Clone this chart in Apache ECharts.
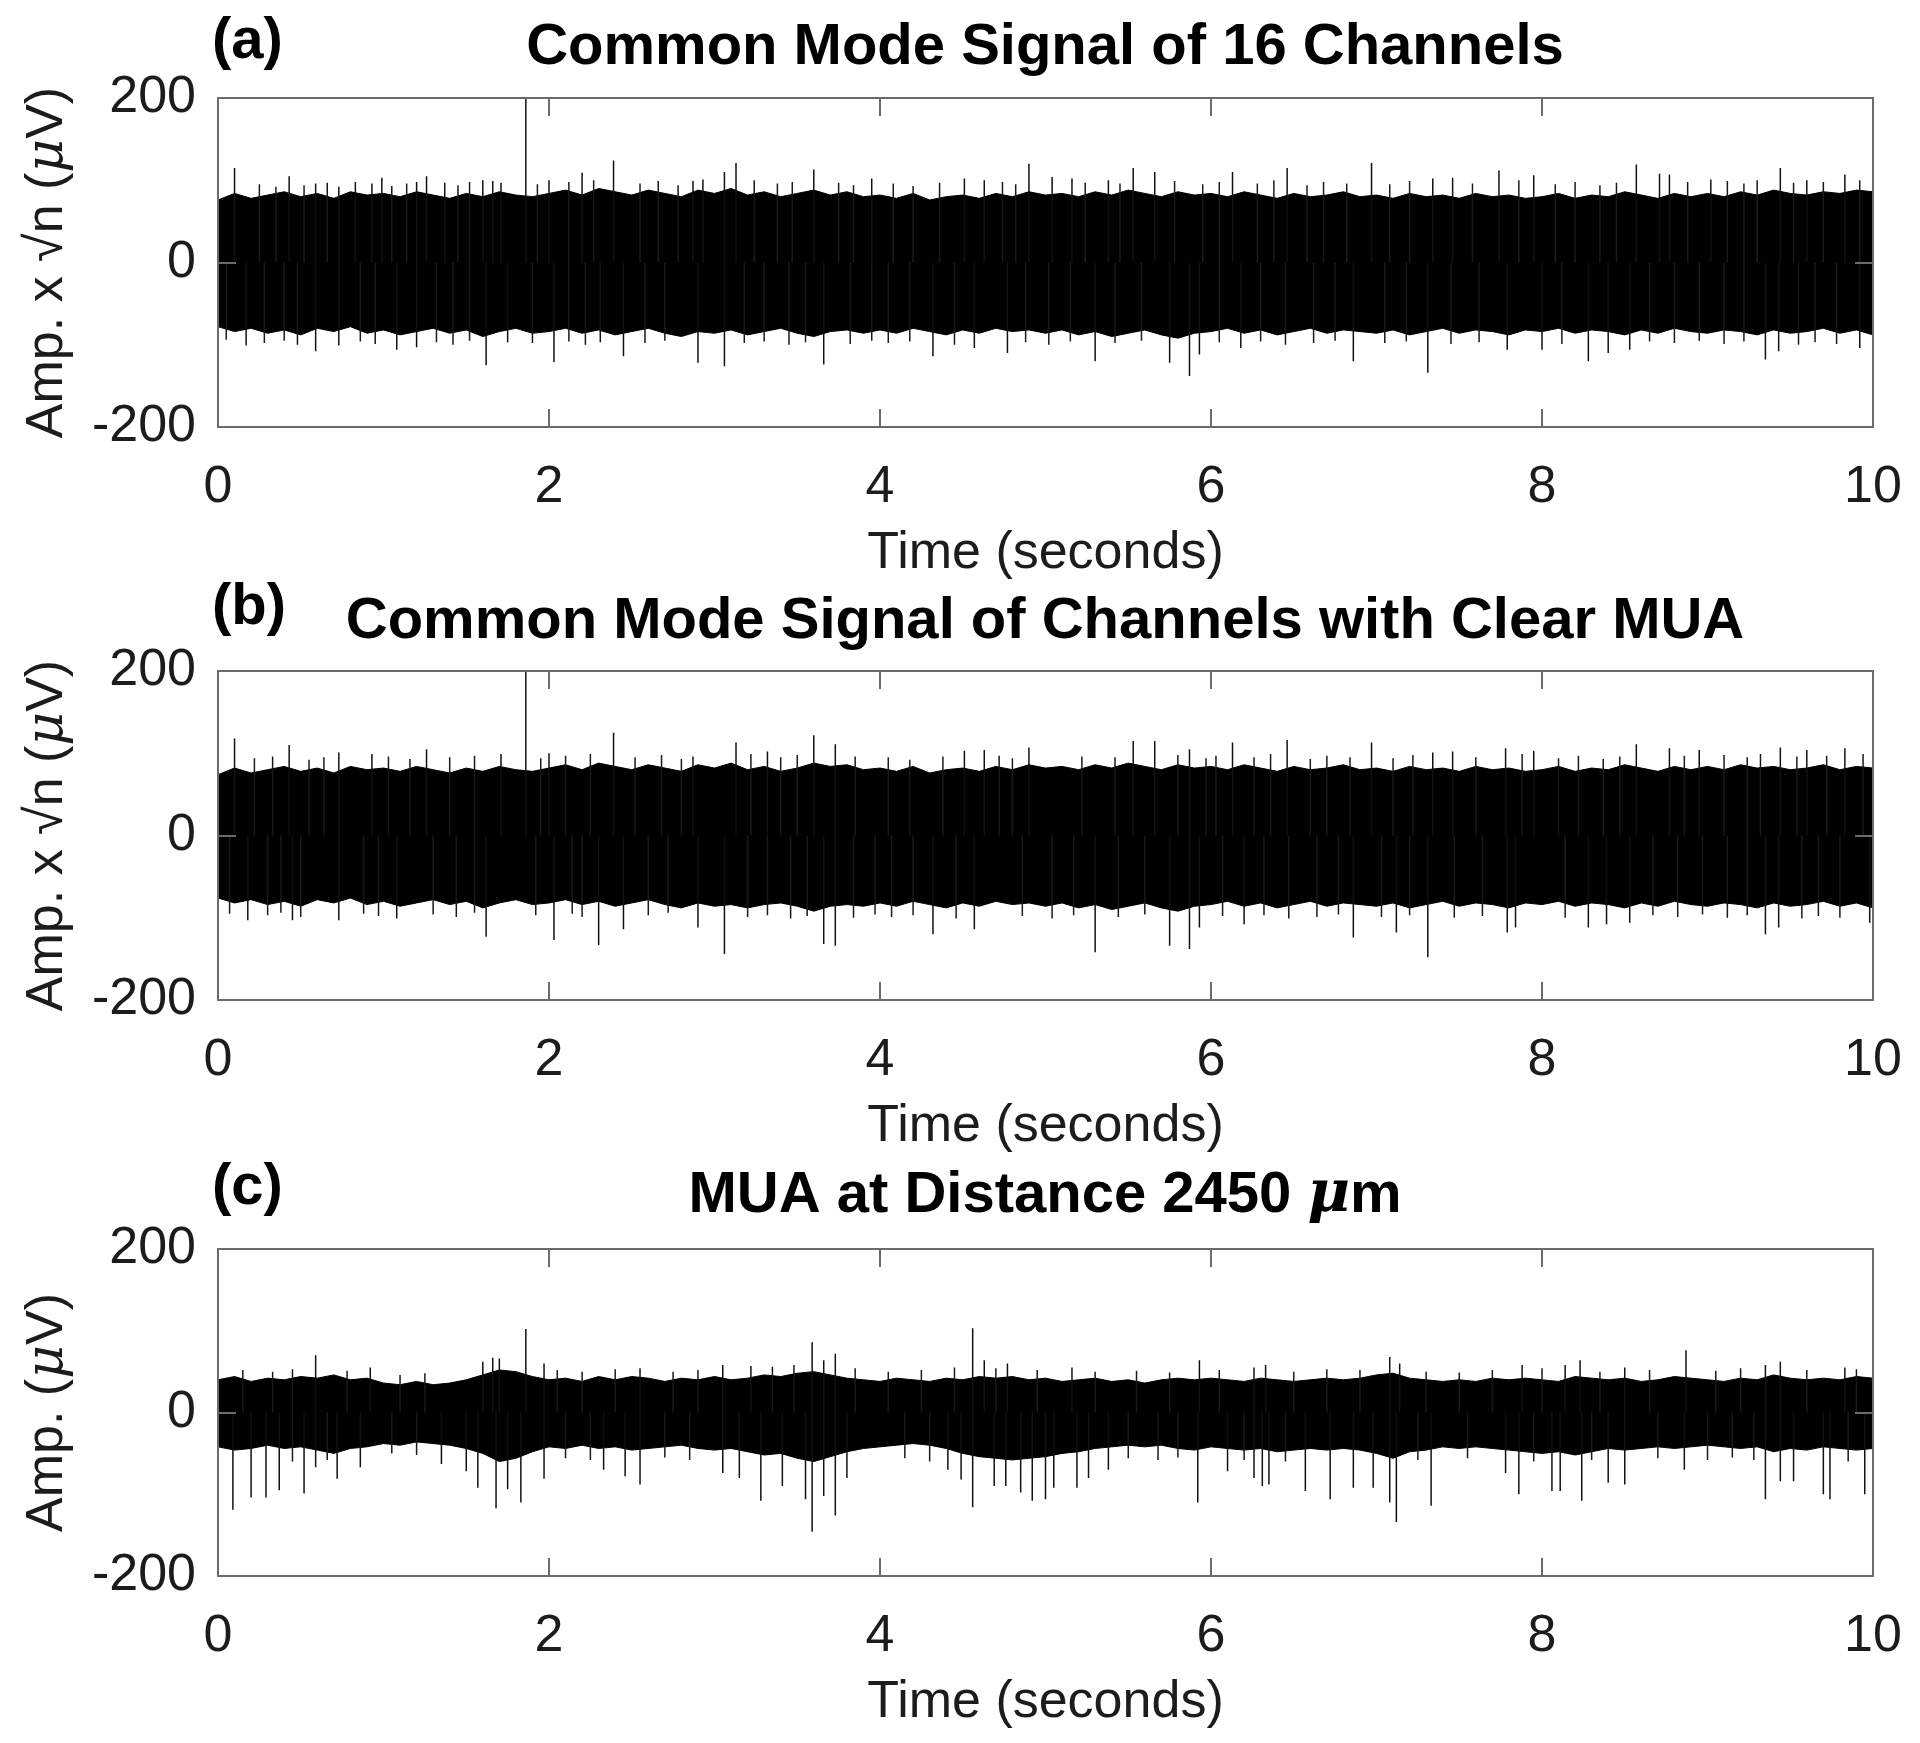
<!DOCTYPE html>
<html>
<head>
<meta charset="utf-8">
<script src="https://cdn.jsdelivr.net/npm/echarts@6/dist/echarts.min.js"></script>
<style>
  html, body { margin: 0; padding: 0; background: #fff; }
  #chart { width: 1920px; height: 1743px; }
</style>
</head>
<body>
<div id="chart"></div>
<script>
// band of the dense noise, sampled every 0.1 s (0 .. 10 s)
const bandStep = 0.1;
const upperA = [
  76, 84, 78, 82, 86, 80, 84, 78, 86, 82,
  84, 80, 86, 82, 78, 84, 80, 86, 82, 80,
  84, 88, 82, 90, 86, 82, 88, 84, 80, 88,
  84, 90, 82, 86, 80, 84, 88, 82, 86, 80,
  82, 78, 84, 76, 80, 82, 78, 84, 80, 86,
  82, 84, 80, 86, 82, 88, 84, 80, 86, 82,
  84, 80, 86, 82, 78, 84, 80, 82, 86, 80,
  82, 78, 84, 80, 82, 78, 84, 80, 82, 78,
  80, 84, 78, 82, 80, 86, 82, 78, 84, 80,
  84, 80, 86, 82, 88, 84, 82, 86, 84, 88, 86
];
const lowerA = [
  -78, -84, -80, -86, -82, -88, -80, -84, -78, -86,
  -82, -88, -84, -80, -86, -82, -90, -84, -80, -86,
  -84, -80, -86, -82, -88, -84, -80, -86, -90, -84,
  -86, -82, -88, -84, -80, -86, -90, -84, -82, -86,
  -82, -86, -80, -84, -88, -82, -86, -80, -84, -82,
  -86, -82, -88, -84, -90, -86, -82, -88, -92, -86,
  -84, -80, -86, -82, -88, -84, -80, -86, -82, -84,
  -86, -82, -88, -84, -80, -86, -82, -84, -88, -82,
  -84, -80, -86, -82, -84, -88, -82, -86, -80, -84,
  -86, -82, -84, -88, -82, -86, -84, -80, -86, -82, -88
];
const upperB = [
  74, 82, 76, 80, 84, 78, 82, 76, 84, 80,
  82, 78, 84, 80, 76, 82, 78, 84, 80, 78,
  82, 86, 80, 88, 84, 80, 86, 82, 78, 86,
  82, 88, 80, 84, 78, 82, 88, 84, 86, 80,
  82, 78, 84, 76, 80, 82, 78, 84, 80, 86,
  82, 84, 80, 86, 82, 88, 84, 80, 86, 82,
  84, 80, 86, 82, 78, 84, 80, 82, 86, 80,
  82, 78, 84, 80, 82, 78, 84, 80, 82, 78,
  80, 84, 78, 82, 80, 86, 82, 78, 84, 80,
  84, 80, 86, 82, 84, 80, 82, 86, 80, 84, 82
];
const lowerB = [
  -76, -82, -78, -84, -80, -86, -78, -82, -76, -84,
  -80, -86, -82, -78, -84, -80, -88, -82, -78, -84,
  -82, -78, -84, -80, -86, -82, -78, -84, -88, -82,
  -86, -84, -88, -84, -82, -86, -92, -86, -84, -86,
  -82, -86, -80, -84, -88, -82, -86, -80, -84, -82,
  -86, -82, -88, -84, -90, -86, -82, -88, -92, -86,
  -84, -80, -86, -82, -88, -84, -80, -86, -82, -84,
  -86, -82, -88, -84, -80, -86, -82, -84, -88, -82,
  -84, -80, -86, -82, -84, -88, -82, -86, -80, -84,
  -86, -82, -84, -88, -82, -86, -84, -80, -86, -82, -88
];
const upperC = [
  40, 44, 38, 42, 40, 44, 42, 46, 40, 42,
  36, 34, 38, 34, 36, 40, 46, 52, 50, 44,
  40, 42, 38, 44, 40, 44, 42, 38, 42, 40,
  44, 40, 42, 46, 44, 48, 50, 46, 42, 40,
  38, 42, 40, 38, 42, 40, 44, 42, 44, 40,
  42, 38, 40, 42, 38, 40, 36, 40, 42, 40,
  42, 40, 38, 42, 40, 38, 40, 42, 40, 42,
  46, 48, 42, 40, 38, 40, 38, 42, 40, 42,
  40, 38, 44, 42, 40, 42, 38, 40, 44, 42,
  40, 38, 42, 40, 46, 42, 40, 42, 40, 44, 42
];
const lowerC = [
  -42, -46, -44, -40, -44, -42, -46, -50, -44, -42,
  -38, -40, -36, -38, -40, -44, -50, -60, -56, -48,
  -42, -44, -40, -44, -42, -46, -44, -42, -40, -44,
  -46, -44, -48, -52, -50, -56, -60, -54, -48, -44,
  -42, -40, -38, -40, -44, -50, -54, -56, -58, -56,
  -54, -50, -48, -44, -42, -40, -42, -40, -44, -46,
  -42, -44, -46, -44, -48, -46, -44, -46, -44, -46,
  -50, -56, -48, -46, -42, -44, -42, -44, -46, -48,
  -50, -48, -52, -48, -44, -46, -44, -42, -44, -42,
  -40, -42, -44, -42, -48, -44, -46, -42, -44, -46, -44
];

// isolated spikes [time (s), amplitude]
const spikesA = [
  [0.10,115],[0.43,105],[0.59,96],[0.73,92],[0.83,98],[0.93,96],[0.99,103],[1.20,98],[1.26,105],
  [1.37,97],[1.60,100],[1.66,99],[1.71,97],[1.86,200],[2.00,100],[2.20,109],[2.39,124],[2.87,99],
  [2.93,101],[3.06,110],[3.13,121],[3.60,113],[3.95,102],[4.51,102],[4.63,100],[4.90,120],[5.04,104],
  [5.16,102],[5.38,100],[5.53,115],[5.66,110],[6.13,110],[6.46,115],[6.97,121],[7.34,102],[7.46,103],
  [7.74,112],[7.95,106],[8.57,119],[8.71,108],[8.77,107],[9.02,101],[9.44,115],[9.60,100],[9.83,107],
  [0.17,-101],[0.59,-108],[0.73,-101],[1.08,-106],[1.20,-103],[1.62,-125],[1.75,-97],[2.03,-121],
  [2.31,-97],[2.45,-114],[2.90,-122],[3.06,-126],[3.66,-124],[4.32,-114],[4.57,-104],[4.77,-110],
  [5.30,-120],[5.75,-122],[5.87,-138],[5.93,-112],[6.18,-104],[6.86,-120],[7.31,-134],[7.79,-106],
  [8.00,-106],[8.28,-120],[8.40,-110],[8.53,-106],[9.35,-118],[9.43,-108],[9.92,-104]
];
// smaller strokes in the fuzzy edge of the band
const fringeA = [
  [0.25,95],[0.35,92],[0.52,94],[0.66,97],[1.05,93],[1.14,96],[1.45,94],[1.52,98],[1.93,95],
  [2.12,98],[2.27,100],[2.55,96],[2.66,99],[2.78,94],[3.24,100],[3.38,96],[3.47,98],[3.75,97],
  [3.84,94],[4.08,96],[4.20,93],[4.36,97],[4.74,98],[4.82,95],[5.24,97],[5.45,96],[5.78,99],
  [5.95,95],[6.05,98],[6.28,96],[6.38,100],[6.58,94],[6.68,98],[6.82,96],[7.08,95],[7.20,99],
  [7.58,96],[7.86,100],[8.08,95],[8.20,98],[8.35,94],[8.45,97],[8.88,98],[9.12,99],[9.22,96],
  [9.30,100],[9.52,97],[9.70,98],[9.92,100],
  [0.05,-94],[0.28,-98],[0.40,-95],[0.48,-100],[0.86,-96],[0.95,-99],[1.32,-97],[1.42,-100],
  [1.52,-95],[1.90,-98],[2.12,-96],[2.22,-100],[2.58,-98],[2.70,-95],[3.18,-98],[3.30,-96],
  [3.45,-100],[3.55,-97],[3.82,-99],[3.95,-95],[4.05,-98],[4.18,-96],[4.45,-100],[4.88,-97],
  [5.02,-100],[5.15,-96],[5.42,-98],[5.58,-95],[6.05,-97],[6.30,-96],[6.45,-100],[6.62,-98],
  [6.75,-95],[7.05,-98],[7.18,-96],[7.45,-99],[7.62,-97],[8.12,-99],[8.65,-96],[8.80,-98],
  [8.95,-95],[9.10,-99],[9.22,-96],[9.55,-100],[9.65,-97],[9.78,-99]
];
const spikesB = [
  [0.10,118],[0.43,110],[0.73,101],[0.93,99],[1.26,105],[1.71,99],[1.86,200],[2.00,100],[2.39,125],
  [2.87,96],[3.13,113],[3.32,102],[3.60,122],[3.73,111],[4.51,103],[4.63,104],[4.90,107],[5.53,115],
  [5.66,115],[5.87,105],[6.13,113],[6.46,116],[6.97,113],[7.34,101],[7.46,102],[7.78,106],[7.95,103],
  [8.57,111],[8.77,106],[8.95,104],[9.44,107],[9.60,104],[9.83,106],
  [0.18,-103],[0.45,-103],[0.73,-103],[1.08,-101],[1.62,-123],[2.03,-127],[2.30,-133],[2.45,-114],
  [2.90,-112],[3.06,-144],[3.66,-132],[3.73,-134],[4.32,-120],[4.57,-114],[5.30,-142],[5.75,-134],
  [5.87,-138],[5.93,-112],[6.20,-108],[6.86,-124],[7.12,-118],[7.31,-148],[7.79,-118],[7.84,-112],
  [8.28,-112],[8.39,-108],[8.53,-106],[9.35,-120],[9.43,-112],[9.98,-106]
];
const fringeB = [
  [0.22,94],[0.33,96],[0.55,92],[0.64,95],[1.03,96],[1.16,93],[1.40,95],[1.55,97],[1.95,94],
  [2.10,97],[2.25,99],[2.52,95],[2.68,98],[2.80,93],[3.22,99],[3.40,95],[3.50,98],[3.85,96],
  [4.05,95],[4.18,92],[4.38,96],[4.72,97],[4.80,94],[5.22,96],[5.42,95],[5.80,98],[5.97,94],
  [6.03,97],[6.26,95],[6.36,99],[6.60,93],[6.70,97],[6.84,95],[7.10,94],[7.22,98],[7.60,95],
  [7.88,99],[8.10,94],[8.22,97],[8.37,93],[8.47,96],[8.86,97],[9.10,98],[9.24,95],[9.32,99],
  [9.54,96],[9.72,97],[9.94,99],
  [0.07,-95],[0.30,-97],[0.38,-94],[0.50,-99],[0.88,-95],[0.97,-98],[1.30,-96],[1.44,-99],
  [1.55,-94],[1.92,-97],[2.14,-95],[2.20,-99],[2.60,-97],[2.72,-94],[3.20,-99],[3.32,-97],
  [3.46,-101],[3.56,-98],[3.84,-100],[3.97,-96],[4.07,-99],[4.20,-97],[4.46,-101],[4.86,-98],
  [5.04,-101],[5.17,-97],[5.44,-99],[5.60,-96],[6.07,-98],[6.32,-97],[6.47,-101],[6.64,-99],
  [6.77,-96],[7.03,-99],[7.20,-97],[7.47,-100],[7.64,-98],[8.14,-100],[8.67,-97],[8.82,-99],
  [8.97,-96],[9.12,-100],[9.24,-97],[9.57,-101],[9.67,-98],[9.80,-100]
];
const spikesC = [
  [0.59,70],[0.92,55],[1.60,62],[1.66,67],[1.70,66],[1.86,102],[1.97,60],[2.55,54],[3.05,58],
  [3.22,57],[3.59,86],[3.66,64],[3.73,72],[4.56,103],[4.63,64],[4.77,60],[5.16,55],[5.93,64],
  [6.26,55],[6.33,58],[7.08,68],[7.14,60],[7.88,58],[8.14,58],[8.23,64],[8.50,55],[8.87,76],
  [9.35,58],[9.44,62],[9.83,55],
  [0.09,-119],[0.20,-104],[0.29,-104],[0.37,-95],[0.52,-99],[0.59,-67],[0.72,-81],[0.86,-67],
  [1.35,-63],[1.50,-72],[1.57,-92],[1.68,-117],[1.75,-94],[1.83,-110],[1.97,-81],[2.33,-70],
  [2.46,-78],[2.55,-88],[3.05,-74],[3.15,-80],[3.28,-108],[3.41,-90],[3.55,-106],[3.59,-146],
  [3.66,-102],[3.73,-126],[3.80,-80],[4.41,-70],[4.49,-82],[4.56,-116],[4.69,-90],[4.76,-90],
  [4.85,-98],[4.92,-108],[5.00,-106],[5.05,-92],[5.19,-92],[5.26,-80],[5.38,-70],[5.92,-110],
  [6.10,-72],[6.26,-80],[6.31,-90],[6.35,-88],[6.57,-96],[6.72,-106],[6.86,-92],[6.98,-92],
  [7.08,-110],[7.12,-134],[7.33,-114],[7.78,-74],[7.86,-100],[8.06,-96],[8.11,-96],[8.24,-108],
  [8.40,-86],[8.50,-88],[8.86,-70],[9.35,-106],[9.44,-84],[9.52,-84],[9.70,-100],[9.74,-106],
  [9.95,-100]
];
const fringeC = [
  [0.15,52],[0.33,50],[0.45,53],[0.78,51],[1.10,46],[1.25,48],[2.05,52],[2.20,50],[2.40,53],
  [2.75,50],[2.90,52],[3.35,56],[3.48,58],[3.85,54],[4.05,50],[4.25,52],[4.45,55],[4.70,54],
  [4.95,52],[5.30,50],[5.55,51],[5.75,49],[6.05,52],[6.50,50],[6.70,53],[6.90,52],[7.30,50],
  [7.50,49],[7.70,52],[8.00,54],[8.35,50],[8.65,52],[9.05,51],[9.20,54],[9.60,52],[9.90,53],
  [0.45,-60],[0.66,-58],[1.05,-50],[1.20,-52],[2.10,-56],[2.25,-58],[2.70,-55],[2.85,-58],
  [4.15,-56],[4.30,-60],[5.50,-56],[5.68,-58],[5.80,-55],[6.20,-58],[6.45,-60],[7.25,-58],
  [7.55,-56],[7.95,-60],[8.30,-58],[8.70,-56],[9.00,-58],[9.15,-55],[9.28,-58],[9.85,-60]
];

const xTicks = [0, 2, 4, 6, 8, 10];
const yTicks = [-200, 0, 200];
const titles = [
  'Common Mode Signal of 16 Channels',
  'Common Mode Signal of Channels with Clear MUA',
  'MUA at Distance 2450 {mu|μ}m'
];
const panelTags = ['(a)', '(b)', '(c)'];
const yNames = ['Amp. x √n ({mu|μ}V)', 'Amp. x √n ({mu|μ}V)', 'Amp. ({mu|μ}V)'];

const panels = [
  { upper: upperA, lower: lowerA, spikes: spikesA, fringe: fringeA, top: 98, height: 329, titleY: 48, tagY: 42 },
  { upper: upperB, lower: lowerB, spikes: spikesB, fringe: fringeB, top: 671, height: 329, titleY: 622, tagY: 608 },
  { upper: upperC, lower: lowerC, spikes: spikesC, fringe: fringeC, top: 1249, height: 327, titleY: 1196, tagY: 1188 }
];

const font = '"Liberation Sans", Arial, Helvetica, sans-serif';
const axisColor = '#6b6b6b';
const textColor = '#1c1c1c';

let chart = echarts.init(document.getElementById('chart'), null, { renderer: 'canvas' });

let grid = [], xAxis = [], yAxis = [], series = [], graphic = [];

function strokes(list) {
  let out = [];
  list.forEach(s => {
    out.push([s[0], 0], [s[0], s[1]], [s[0], '-']);
  });
  return out;
}

panels.forEach((p, i) => {
  grid.push({ left: 218, right: 47, top: p.top, height: p.height });

  let lineStyle = { color: axisColor, width: 2 };
  // bottom and top x axes
  xAxis.push({
    type: 'value', gridIndex: i, z: 10, min: xTicks[0], max: xTicks[xTicks.length - 1],
    interval: xTicks[1] - xTicks[0],
    axisLine: { onZero: false, lineStyle: lineStyle },
    axisTick: { inside: true, length: 18, lineStyle: lineStyle },
    axisLabel: { fontSize: 52, color: textColor, fontFamily: font, margin: 35 },
    splitLine: { show: false },
    name: 'Time (seconds)', nameLocation: 'middle', nameGap: 101,
    nameTextStyle: { fontSize: 52, color: textColor, fontFamily: font }
  });
  xAxis.push({
    type: 'value', gridIndex: i, z: 10, position: 'top', min: xTicks[0], max: xTicks[xTicks.length - 1],
    interval: xTicks[1] - xTicks[0],
    axisLine: { onZero: false, lineStyle: lineStyle },
    axisTick: { inside: true, length: 18, lineStyle: lineStyle },
    axisLabel: { show: false }, splitLine: { show: false }
  });
  // left and right y axes
  yAxis.push({
    type: 'value', gridIndex: i, z: 10, min: yTicks[0], max: yTicks[yTicks.length - 1],
    interval: yTicks[1] - yTicks[0],
    axisLine: { show: true, onZero: false, lineStyle: lineStyle },
    axisTick: { show: true, inside: true, length: 18, lineStyle: lineStyle },
    axisLabel: { fontSize: 52, color: textColor, fontFamily: font, margin: 22 },
    splitLine: { show: false },
    name: yNames[i], nameLocation: 'middle', nameGap: 144, nameRotate: 90,
    nameTextStyle: {
      fontSize: 52, color: textColor, fontFamily: font,
      rich: { mu: { fontSize: 52, color: textColor, fontFamily: 'DejaVu Serif', fontStyle: 'italic' } }
    }
  });
  yAxis.push({
    type: 'value', gridIndex: i, z: 10, position: 'right', min: yTicks[0], max: yTicks[yTicks.length - 1],
    interval: yTicks[1] - yTicks[0],
    axisLine: { show: true, onZero: false, lineStyle: lineStyle },
    axisTick: { show: true, inside: true, length: 18, lineStyle: lineStyle },
    axisLabel: { show: false }, splitLine: { show: false }
  });

  let xi = i * 2, yi = i * 2;
  // dense noise band: black up to the upper edge, cleared again below the lower edge
  series.push({
    type: 'line', xAxisIndex: xi, yAxisIndex: yi,
    data: p.upper.map((v, k) => [k * bandStep, v]),
    symbol: 'none', silent: true, animation: false,
    lineStyle: { color: '#000', width: 1 },
    areaStyle: { color: '#000', opacity: 1, origin: 'start' }
  });
  series.push({
    type: 'line', xAxisIndex: xi, yAxisIndex: yi,
    data: p.lower.map((v, k) => [k * bandStep, v]),
    symbol: 'none', silent: true, animation: false,
    lineStyle: { color: '#000', width: 1 },
    areaStyle: { color: '#fff', opacity: 1, origin: 'start' }
  });
  // fuzzy edge strokes and isolated spikes
  series.push({
    type: 'line', xAxisIndex: xi, yAxisIndex: yi, data: strokes(p.fringe),
    symbol: 'none', silent: true, animation: false, connectNulls: false,
    lineStyle: { color: '#1a1a1a', width: 1.5 }
  });
  series.push({
    type: 'line', xAxisIndex: xi, yAxisIndex: yi, data: strokes(p.spikes),
    symbol: 'none', silent: true, animation: false, connectNulls: false,
    lineStyle: { color: '#111', width: 1.5 }
  });

  graphic.push({
    type: 'text', x: 1045, y: p.titleY,
    style: {
      text: titles[i], fill: '#000', font: 'bold 58px ' + font,
      align: 'center', verticalAlign: 'middle',
      rich: { mu: { font: 'italic bold 58px "DejaVu Serif"', fill: '#000' } }
    }
  });
  graphic.push({
    type: 'text', x: 212, y: p.tagY,
    style: {
      text: panelTags[i], fill: '#000', font: 'bold 58px ' + font,
      align: 'left', verticalAlign: 'middle'
    }
  });
});

chart.setOption({
  backgroundColor: '#fff',
  animation: false,
  grid: grid,
  xAxis: xAxis,
  yAxis: yAxis,
  series: series,
  graphic: graphic
});

window.addEventListener('resize', function () {
  chart.resize();
});
</script>
</body>
</html>
